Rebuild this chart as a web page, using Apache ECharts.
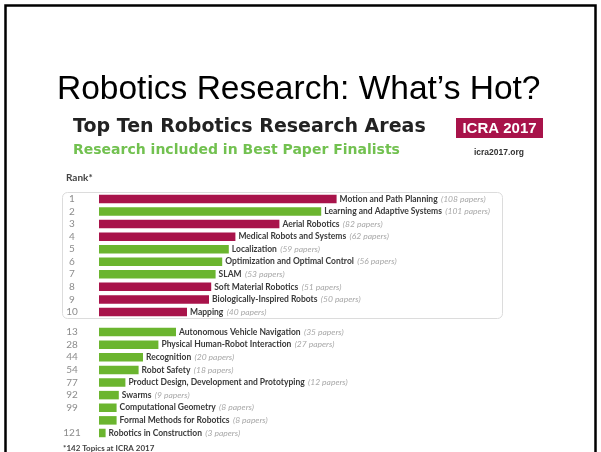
<!DOCTYPE html>
<html>
<head>
<meta charset="utf-8">
<script src="https://cdn.jsdelivr.net/npm/echarts@6/dist/echarts.min.js"></script>
<style>
html,body{margin:0;padding:0;background:#fff;}
#chart{width:601px;height:452px;}
</style>
</head>
<body>
<div id="chart"></div>
<script>
const ranksTop = ['1','2','3','4','5','6','7','8','9','10'];
const topicsTop = ['Motion and Path Planning','Learning and Adaptive Systems','Aerial Robotics','Medical Robots and Systems','Localization','Optimization and Optimal Control','SLAM','Soft Material Robotics','Biologically-Inspired Robots','Mapping'];
const papersTop = [108,101,82,62,59,56,53,51,50,40];
const bestTop = [false,true,false,false,true,true,true,false,false,false];

const ranksBottom = ['13','28','44','54','77','92','99','','121'];
const topicsBottom = ['Autonomous Vehicle Navigation','Physical Human-Robot Interaction','Recognition','Robot Safety','Product Design, Development and Prototyping','Swarms','Computational Geometry','Formal Methods for Robotics','Robotics in Construction'];
const papersBottom = [35,27,20,18,12,9,8,8,3];
const bestBottom = [true,true,true,true,true,true,true,true,true];

const CRIMSON = '#a8134a';
const GREEN = '#6bb52f';
const labelFont = 'Lato';

function buildData(papers, best) {
  return papers.map((v, i) => ({ value: v, itemStyle: { color: best[i] ? GREEN : CRIMSON } }));
}
function makeLabel(topics) {
  return {
    show: true,
    position: 'right',
    distance: 3,
    formatter: p => '{n|' + topics[p.dataIndex] + '} {p|(' + p.value + ' papers)}',
    rich: {
      n: { fontFamily: labelFont, fontWeight: 'bold', fontSize: 8.5, color: '#3a3a3a' },
      p: { fontFamily: labelFont, fontStyle: 'italic', fontSize: 8.5, color: '#a8a8a8' }
    }
  };
}
function yAxisFor(topics, ranks, gi) {
  return {
    type: 'category', gridIndex: gi, inverse: true, data: topics,
    axisLine: { show: false }, axisTick: { show: false },
    axisLabel: {
      interval: 0,
      formatter: (v, i) => ranks[i], align: 'center', margin: 27,
      color: '#8c8c8c', fontSize: 10, fontFamily: labelFont
    }
  };
}

const chart = echarts.init(document.getElementById('chart'), null, { renderer: 'canvas' });
chart.setOption({
  backgroundColor: '#ffffff',
  animation: false,
  grid: [
    { left: 99, width: 440, top: 192.7, height: 125.5 },
    { left: 99, width: 440, top: 325.7, height: 113.6 }
  ],
  xAxis: [
    { type: 'value', gridIndex: 0, min: 0, max: 200, show: false },
    { type: 'value', gridIndex: 1, min: 0, max: 200, show: false }
  ],
  yAxis: [
    yAxisFor(topicsTop, ranksTop, 0),
    yAxisFor(topicsBottom, ranksBottom, 1)
  ],
  series: [
    { type: 'bar', xAxisIndex: 0, yAxisIndex: 0, barWidth: 8.5, data: buildData(papersTop, bestTop), label: makeLabel(topicsTop) },
    { type: 'bar', xAxisIndex: 1, yAxisIndex: 1, barWidth: 8.5, data: buildData(papersBottom, bestBottom), label: makeLabel(topicsBottom) }
  ],
  graphic: [
    { type: 'rect', shape: { x: 5.5, y: 5.5, width: 590, height: 470 }, style: { fill: 'none', stroke: '#000', lineWidth: 2.5 }, silent: true },
    { type: 'text', x: 57, y: 90, style: { text: 'Robotics Research: What’s Hot?', fontFamily: 'Liberation Sans', fontSize: 33.5, fill: '#000', verticalAlign: 'middle' } },
    { type: 'text', x: 73, y: 127, style: { text: 'Top Ten Robotics Research Areas', fontFamily: 'DejaVu Sans', fontWeight: 'bold', fontSize: 19, fill: '#222', verticalAlign: 'middle' } },
    { type: 'text', x: 73, y: 150, style: { text: 'Research included in Best Paper Finalists', fontFamily: 'DejaVu Sans', fontWeight: 'bold', fontSize: 14, fill: '#72c150', verticalAlign: 'middle' } },
    { type: 'rect', shape: { x: 456, y: 118, width: 87, height: 20 }, style: { fill: '#a8134a' } },
    { type: 'text', x: 499.5, y: 128.5, style: { text: 'ICRA 2017', fontFamily: 'Liberation Sans', fontWeight: 'bold', fontSize: 15, fill: '#fff', align: 'center', verticalAlign: 'middle' } },
    { type: 'text', x: 499, y: 153, style: { text: 'icra2017.org', fontFamily: 'Liberation Sans', fontWeight: 'bold', fontSize: 8.5, fill: '#333', align: 'center', verticalAlign: 'middle' } },
    { type: 'text', x: 66, y: 178, style: { text: 'Rank*', fontFamily: labelFont, fontWeight: 'bold', fontSize: 10, fill: '#444', verticalAlign: 'middle' } },
    { type: 'rect', shape: { x: 62.5, y: 192.5, width: 440, height: 126, r: 5 }, style: { fill: 'none', stroke: '#dcdcdc', lineWidth: 1 }, silent: true, z: -1 },
    { type: 'text', x: 63, y: 448, style: { text: '*142 Topics at ICRA 2017', fontFamily: labelFont, fontWeight: 'bold', fontSize: 8, fill: '#444', verticalAlign: 'middle' } }
  ]
});
</script>
</body>
</html>
